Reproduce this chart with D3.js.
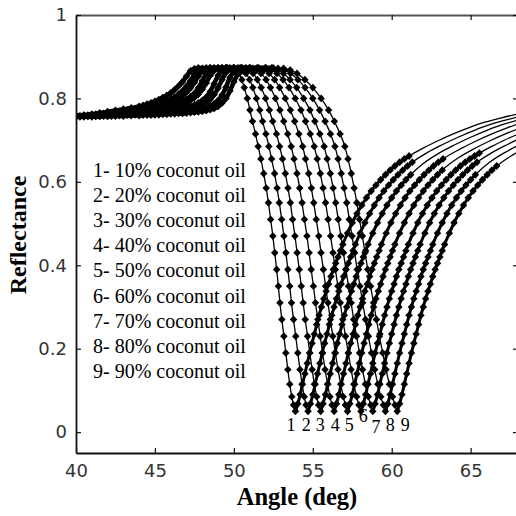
<!DOCTYPE html>
<html>
<head>
<meta charset="utf-8">
<script src="https://cdn.jsdelivr.net/npm/d3@7"></script>
<style>
  body { margin: 0; background: #fff; }
  svg { display: block; }
</style>
</head>
<body>
<div id="chart"></div>
<script>
// ---- data ----
// left part (below and around the critical angle) and plateau, [angle, R]
const left1 = [[40,.759],[40.5,.760],[41,.762],[41.5,.765],[42,.768],[42.5,.771],[43,.774],[43.5,.777],[44,.781],[44.25,.783],[44.5,.786],[44.75,.789],[45,.793],[45.25,.797],[45.5,.802],[45.75,.807],[46,.813],[46.25,.821],[46.5,.830],[46.75,.840],[47,.853],[47.25,.866],[47.5,.871],[47.75,.873],[48.25,.873],[48.75,.873],[49.25,.873],[49.6,.873]];
const left2 = [[40.25,.758],[40.75,.760],[41.25,.762],[41.75,.764],[42.25,.766],[42.75,.769],[43.25,.772],[43.75,.775],[44,.777],[44.25,.778],[44.5,.780],[44.75,.782],[45,.784],[45.25,.787],[45.5,.790],[45.75,.794],[46,.798],[46.25,.803],[46.5,.810],[46.75,.818],[47,.829],[47.25,.842],[47.5,.858],[47.75,.869],[48,.872],[48.5,.873],[49,.873],[49.5,.873],[50,.873]];
const left3 = [[40,.758],[40.5,.759],[41,.760],[41.5,.762],[42,.764],[42.5,.766],[43,.768],[43.5,.771],[44,.774],[44.25,.775],[44.5,.777],[44.75,.779],[45,.781],[45.25,.783],[45.5,.786],[45.75,.789],[46,.792],[46.25,.796],[46.5,.801],[46.75,.807],[47,.815],[47.25,.825],[47.5,.838],[47.75,.853],[48,.866],[48.25,.871],[48.5,.873],[49,.873],[49.5,.873],[50,.873],[50.4,.873]];
const left4 = [[40.25,.757],[40.75,.758],[41.25,.759],[41.75,.761],[42.25,.762],[42.75,.764],[43.25,.766],[43.75,.768],[44,.770],[44.25,.771],[44.5,.772],[44.75,.774],[45,.775],[45.25,.777],[45.5,.779],[45.75,.781],[46,.783],[46.25,.786],[46.5,.789],[46.75,.793],[47,.798],[47.25,.804],[47.5,.812],[47.75,.825],[48,.842],[48.25,.860],[48.5,.869],[48.75,.872],[49.25,.873],[49.75,.873],[50.25,.873],[50.75,.873]];
const left5 = [[40,.757],[40.5,.758],[41,.759],[41.5,.760],[42,.761],[42.5,.763],[43,.764],[43.5,.766],[44,.768],[44.25,.769],[44.5,.770],[44.75,.771],[45,.773],[45.25,.774],[45.5,.776],[45.75,.777],[46,.779],[46.25,.781],[46.5,.784],[46.75,.787],[47,.791],[47.25,.796],[47.5,.802],[47.75,.810],[48,.822],[48.25,.837],[48.5,.855],[48.75,.867],[49,.872],[49.5,.873],[50,.873],[50.5,.873],[51,.873]];
const left6 = [[40.25,.757],[40.75,.758],[41.25,.758],[41.75,.759],[42.25,.760],[42.75,.761],[43.25,.763],[43.75,.764],[44,.765],[44.25,.766],[44.5,.767],[44.75,.768],[45,.769],[45.25,.770],[45.5,.771],[45.75,.772],[46,.774],[46.25,.775],[46.5,.777],[46.75,.778],[47,.780],[47.25,.782],[47.5,.785],[47.75,.789],[48,.795],[48.25,.803],[48.5,.816],[48.75,.835],[49,.855],[49.25,.867],[49.5,.872],[50,.873],[50.5,.873],[51,.873],[51.5,.873]];
const left7 = [[40,.756],[40.5,.757],[41,.758],[41.5,.758],[42,.759],[42.5,.760],[43,.761],[43.5,.762],[44,.763],[44.25,.764],[44.5,.765],[44.75,.765],[45,.766],[45.25,.767],[45.5,.768],[45.75,.769],[46,.770],[46.25,.771],[46.5,.772],[46.75,.773],[47,.775],[47.25,.777],[47.5,.779],[47.75,.782],[48,.786],[48.25,.791],[48.5,.798],[48.75,.809],[49,.825],[49.25,.845],[49.5,.862],[49.75,.870],[50,.872],[50.5,.873],[51,.873],[51.5,.873],[52,.873]];
const left8 = [[40.25,.756],[40.75,.757],[41.25,.757],[41.75,.758],[42.25,.758],[42.75,.759],[43.25,.760],[43.75,.761],[44,.761],[44.25,.762],[44.5,.762],[44.75,.763],[45,.763],[45.25,.764],[45.5,.765],[45.75,.766],[46,.766],[46.25,.767],[46.5,.768],[46.75,.769],[47,.770],[47.25,.771],[47.5,.773],[47.75,.774],[48,.776],[48.25,.778],[48.5,.782],[48.75,.787],[49,.795],[49.25,.808],[49.5,.827],[49.75,.850],[50,.864],[50.25,.870],[50.5,.872],[51,.873],[51.5,.873],[52,.873],[52.4,.873]];
const left9 = [[40,.756],[40.5,.756],[41,.756],[41.5,.757],[42,.757],[42.5,.758],[43,.758],[43.5,.759],[44,.759],[44.25,.760],[44.5,.760],[44.75,.760],[45,.761],[45.25,.761],[45.5,.762],[45.75,.762],[46,.763],[46.25,.763],[46.5,.764],[46.75,.764],[47,.765],[47.25,.766],[47.5,.767],[47.75,.768],[48,.769],[48.25,.771],[48.5,.773],[48.75,.776],[49,.781],[49.25,.789],[49.5,.800],[49.75,.818],[50,.840],[50.25,.858],[50.5,.866],[50.75,.870],[51,.872],[51.5,.873],[52,.873],[52.5,.873]];

// falling edge: angle at which each curve passes these reflectance levels
const fallLevels = [.872,.868,.860,.845,.826,.800,.772,.745,.715,.685,.655,.620,.585,.550,.510,.470,.430,.390,.350,.310,.270,.230,.190,.150,.115,.085,.065,.050];
const fallAngles1 = [49.93,50.11,50.31,50.51,50.66,50.85,51.02,51.18,51.37,51.54,51.71,51.89,52.05,52.19,52.33,52.47,52.59,52.71,52.82,52.92,53.04,53.17,53.29,53.42,53.54,53.67,53.78,53.9];
const fallAngles2 = [50.33,50.54,50.76,51.00,51.20,51.43,51.64,51.82,52.03,52.22,52.39,52.58,52.74,52.88,53.03,53.17,53.30,53.42,53.54,53.65,53.78,53.92,54.05,54.19,54.32,54.46,54.57,54.7];
const fallAngles3 = [50.72,50.96,51.22,51.49,51.73,52.01,52.25,52.46,52.70,52.90,53.08,53.26,53.43,53.58,53.72,53.87,54.01,54.14,54.27,54.39,54.52,54.67,54.81,54.96,55.10,55.25,55.37,55.5];
const fallAngles4 = [51.17,51.44,51.72,52.04,52.32,52.64,52.92,53.16,53.41,53.63,53.81,54.00,54.17,54.32,54.47,54.63,54.77,54.90,55.04,55.17,55.32,55.47,55.62,55.78,55.94,56.09,56.22,56.35];
const fallAngles5 = [51.61,51.91,52.23,52.58,52.90,53.26,53.58,53.85,54.12,54.36,54.54,54.74,54.91,55.06,55.22,55.38,55.52,55.67,55.81,55.96,56.11,56.27,56.43,56.60,56.77,56.93,57.07,57.2];
const fallAngles6 = [52.06,52.39,52.73,53.12,53.49,53.89,54.25,54.54,54.84,55.09,55.28,55.48,55.65,55.81,55.97,56.13,56.28,56.43,56.59,56.74,56.90,57.07,57.25,57.43,57.60,57.78,57.92,58.05];
const fallAngles7 = [52.41,52.77,53.14,53.56,53.98,54.42,54.82,55.13,55.45,55.72,55.91,56.11,56.29,56.45,56.61,56.78,56.94,57.10,57.26,57.43,57.59,57.77,57.96,58.15,58.33,58.52,58.67,58.8];
const fallAngles8 = [52.80,53.19,53.59,54.06,54.51,55.00,55.43,55.78,56.12,56.40,56.60,56.80,56.98,57.15,57.31,57.49,57.65,57.81,57.99,58.16,58.34,58.52,58.72,58.92,59.12,59.31,59.47,59.6];
const fallAngles9 = [53.15,53.57,54.00,54.50,55.00,55.53,56.00,56.37,56.73,57.03,57.23,57.44,57.62,57.79,57.96,58.14,58.31,58.48,58.66,58.85,59.03,59.22,59.43,59.64,59.85,60.05,60.21,60.35];

// rising edge (measured part, drawn with markers)
const riseLevels = [.068,.090,.115,.140,.165,.190,.213,.235,.258,.280,.300,.320,.338,.355,.373,.390,.405,.420,.435,.450,.477,.502,.524,.544,.562,.578,.592,.605,.617,.628,.638,.647,.655,.662,.669];
const riseAngles1 = [54.05,54.2,54.35,54.5,54.65,54.8,54.95,55.1,55.25,55.4,55.55,55.7,55.85,56.0,56.15,56.3,56.45,56.6,56.75,56.9,57.2,57.5,57.8,58.1,58.4,58.7,59.0,59.3,59.6,59.9,60.2,60.5,60.8,61.1];
const riseAngles2 = [54.85,55.0,55.15,55.3,55.45,55.6,55.75,55.9,56.05,56.2,56.35,56.5,56.65,56.8,56.95,57.1,57.25,57.4,57.55,57.7,58.0,58.3,58.6,58.9,59.2,59.5,59.8,60.1,60.4,60.7,61.0,61.3];
const riseAngles3 = [55.65,55.8,55.95,56.1,56.25,56.4,56.55,56.7,56.85,57.0,57.15,57.3,57.45,57.6,57.75,57.9,58.05,58.2,58.35,58.5,58.8,59.1,59.4,59.7,60.0,60.3,60.6,60.9,61.2];
const riseAngles4 = [56.5,56.65,56.8,56.95,57.1,57.25,57.4,57.55,57.7,57.85,58.0,58.15,58.3,58.45,58.6,58.75,58.9,59.05,59.2,59.35,59.65,59.95,60.25,60.55,60.85,61.15,61.45,61.75,62.05,62.35,62.65,62.95,63.25];
const riseAngles5 = [57.35,57.5,57.65,57.8,57.95,58.1,58.25,58.4,58.55,58.7,58.85,59.0,59.15,59.3,59.45,59.6,59.75,59.9,60.05,60.2,60.5,60.8,61.1,61.4,61.7,62.0,62.3,62.6,62.9,63.2];
const riseAngles6 = [58.2,58.35,58.5,58.65,58.8,58.95,59.1,59.25,59.4,59.55,59.7,59.85,60.0,60.15,60.3,60.45,60.6,60.75,60.9,61.05,61.35,61.65,61.95,62.25,62.55,62.85,63.15,63.45,63.75,64.05,64.35,64.65,64.95,65.25,65.55];
const riseAngles7 = [58.95,59.1,59.25,59.4,59.55,59.7,59.85,60.0,60.15,60.3,60.45,60.6,60.75,60.9,61.05,61.2,61.35,61.5,61.65,61.8,62.1,62.4,62.7,63.0,63.3,63.6,63.9,64.2,64.5,64.8,65.1,65.4];
const riseAngles8 = [59.75,59.9,60.05,60.2,60.35,60.5,60.65,60.8,60.95,61.1,61.25,61.4,61.55,61.7,61.85,62.0,62.15,62.3,62.45,62.6,62.9,63.2,63.5,63.8,64.1,64.4,64.7,65.0,65.3];
const riseAngles9 = [60.5,60.65,60.8,60.95,61.1,61.25,61.4,61.55,61.7,61.85,62.0,62.15,62.3,62.45,62.6,62.75,62.9,63.05,63.2,63.35,63.65,63.95,64.25,64.55,64.85,65.15,65.45,65.75,66.05,66.35,66.65];

// fitted continuation, plain line only
const tail1 = [[61.9,.679],[62.9,.698],[63.9,.715],[64.9,.730],[65.9,.743],[66.9,.753],[68,.763]];
const tail2 = [[62.2,.669],[63.2,.689],[64.2,.707],[65.2,.723],[66.2,.737],[67.2,.748],[68,.756]];
const tail3 = [[62.0,.644],[63.0,.669],[64.0,.689],[65.0,.707],[66.0,.723],[67.0,.737],[68,.748]];
const tail4 = [[64.35,.679],[65.35,.698],[66.35,.715],[67.35,.730],[68,.739]];
const tail5 = [[64.2,.657],[65.2,.679],[66.2,.698],[67.2,.715],[68,.727]];
const tail6 = [[66.55,.689],[67.55,.707],[68,.714]];
const tail7 = [[66.3,.669],[67.3,.689],[68,.702]];
const tail8 = [[66.2,.647],[67.1,.669],[68,.687]];
const tail9 = [[67.35,.657],[68,.672]];

const legendLabels = ["1- 10% coconut oil", "2- 20% coconut oil", "3- 30% coconut oil",
  "4- 40% coconut oil", "5- 50% coconut oil", "6- 60% coconut oil",
  "7- 70% coconut oil", "8- 80% coconut oil", "9- 90% coconut oil"];

// numbers written under the dips
const dipLabels = ["1", "2", "3", "4", "5", "6", "7", "8", "9"];
const dipLabelAngles = [53.62, 54.59, 55.47, 56.42, 57.31, 58.2, 59.0, 59.9, 60.85];
const dipLabelLevels = [0.003, 0.003, 0.003, 0.003, 0.003, 0.024, -0.002, 0.003, 0.003];

const xTicks = [40, 45, 50, 55, 60, 65];
const yTicks = [0, 0.2, 0.4, 0.6, 0.8, 1];

// ---- build the series ----
const lefts = [left1, left2, left3, left4, left5, left6, left7, left8, left9];
const falls = [fallAngles1, fallAngles2, fallAngles3, fallAngles4, fallAngles5, fallAngles6, fallAngles7, fallAngles8, fallAngles9];
const rises = [riseAngles1, riseAngles2, riseAngles3, riseAngles4, riseAngles5, riseAngles6, riseAngles7, riseAngles8, riseAngles9];
const tails = [tail1, tail2, tail3, tail4, tail5, tail6, tail7, tail8, tail9];

const series = lefts.map((l, i) => {
  let fall = falls[i].map((a, j) => [a, fallLevels[j]]);
  let rise = [fall[fall.length - 1]].concat(rises[i].map((a, j) => [a, riseLevels[j]]));
  let measured = l.concat(fall, rise.slice(1));
  return {left: l, rise: rise, measured: measured, all: measured.concat(tails[i])};
});

// set the dimensions of the graph
let width = 516, height = 516;
let plot = {left: 76, right: 518, top: 15, bottom: 453};

let x = d3.scaleLinear().domain([40, 68]).range([plot.left, plot.right]);
let y = d3.scaleLinear().domain([-0.05, 1]).range([plot.bottom, plot.top]);

let svg = d3.select("#chart").append("svg")
    .attr("width", width)
    .attr("height", height);

svg.append("defs").append("clipPath")
    .attr("id", "clip")
  .append("rect")
    .attr("x", plot.left)
    .attr("y", plot.top)
    .attr("width", plot.right - plot.left)
    .attr("height", plot.bottom - plot.top);

// matlab style diamond marker
const diamond = {
  draw(context, size) {
    const r = Math.sqrt(size) / 2;
    context.moveTo(0, -r * 1.05);
    context.lineTo(r, 0);
    context.lineTo(0, r * 1.05);
    context.lineTo(-r, 0);
    context.closePath();
  }
};

let line = d3.line()
    .x(d => x(d[0]))
    .y(d => y(d[1]))
    .curve(d3.curveMonotoneX);

let marks = svg.append("g").attr("clip-path", "url(#clip)");

series.forEach(s => {
  marks.append("path")
      .datum(s.all)
      .attr("fill", "none")
      .attr("stroke", "#000")
      .attr("stroke-width", 1.3)
      .attr("d", line);

  // where the markers sit almost on top of each other they read as a thick line
  marks.append("path")
      .datum(s.left)
      .attr("fill", "none")
      .attr("stroke", "#000")
      .attr("stroke-width", 4.5)
      .attr("d", line);

  marks.append("path")
      .datum(s.rise)
      .attr("fill", "none")
      .attr("stroke", "#000")
      .attr("stroke-width", 3)
      .attr("d", line);

  marks.append("g").selectAll("path")
      .data(s.measured)
    .enter().append("path")
      .attr("transform", d => "translate(" + x(d[0]) + "," + y(d[1]) + ")")
      .attr("d", d3.symbol().type(diamond).size(56))
      .attr("fill", "#000");
});

// axes, ticks pointing inward
let axisStyle = g => {
  g.select(".domain").attr("stroke", "#111").attr("stroke-width", 1.8);
  g.selectAll(".tick line").attr("stroke", "#111").attr("stroke-width", 1.2);
  g.selectAll("text")
      .attr("font-family", "DejaVu Sans")
      .attr("font-size", 18)
      .attr("fill", "#333");
};

svg.append("g")
    .attr("transform", "translate(0," + plot.bottom + ")")
    .call(d3.axisBottom(x).tickValues(xTicks).tickSizeInner(-5).tickSizeOuter(0).tickPadding(11))
    .call(axisStyle);

svg.append("g")
    .attr("transform", "translate(0," + plot.top + ")")
    .call(d3.axisTop(x).tickValues(xTicks).tickSizeInner(-5).tickSizeOuter(0).tickFormat(""))
    .call(axisStyle)
    .select(".domain").attr("stroke", "#555");

svg.append("g")
    .attr("transform", "translate(" + plot.left + ",0)")
    .call(d3.axisLeft(y).tickValues(yTicks).tickSizeInner(-5).tickSizeOuter(0).tickPadding(9).tickFormat(d3.format("~g")))
    .call(axisStyle);

svg.append("g")
    .attr("transform", "translate(" + plot.right + ",0)")
    .call(d3.axisRight(y).tickValues(yTicks).tickSizeInner(-5).tickSizeOuter(0).tickFormat(""))
    .call(axisStyle);

// legend text
svg.append("g").selectAll("text")
    .data(legendLabels)
  .enter().append("text")
    .attr("x", 93)
    .attr("y", (d, i) => 177 + i * 25.1)
    .attr("font-family", "Liberation Serif")
    .attr("font-size", 20)
    .attr("fill", "#000")
    .text(d => d);

// dip numbers
svg.append("g").selectAll("text")
    .data(dipLabels)
  .enter().append("text")
    .attr("x", (d, i) => x(dipLabelAngles[i]))
    .attr("y", (d, i) => y(dipLabelLevels[i]))
    .attr("text-anchor", "middle")
    .attr("font-family", "Liberation Serif")
    .attr("font-size", 18)
    .attr("fill", "#000")
    .text(d => d);

// axis titles
svg.append("text")
    .attr("x", 297)
    .attr("y", 505)
    .attr("text-anchor", "middle")
    .attr("font-family", "Liberation Serif")
    .attr("font-weight", "bold")
    .attr("font-size", 24.5)
    .text("Angle (deg)");

svg.append("text")
    .attr("transform", "translate(26,235) rotate(-90)")
    .attr("text-anchor", "middle")
    .attr("font-family", "Liberation Serif")
    .attr("font-weight", "bold")
    .attr("font-size", 24)
    .text("Reflectance");
</script>
</body>
</html>
